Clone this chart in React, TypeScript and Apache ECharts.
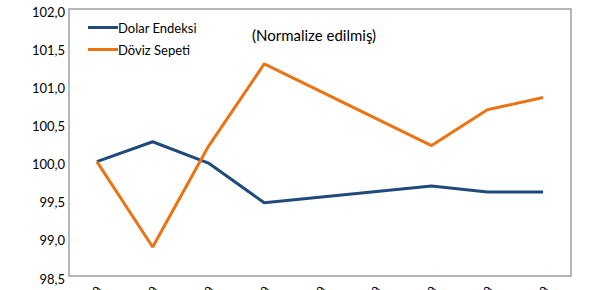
import React, { useEffect, useRef } from "react";
import * as echarts from "echarts";

const categories = ["Oca.19", "Şub.19", "Mar.19", "Nis.19", "May.19", "Haz.19", "Tem.19", "Ağu.19", "Eyl.19"];
const dolarEndeksi: (number | null)[] = [100.0, 100.26, 99.98, 99.46, null, null, 99.68, 99.6, 99.6];
const dovizSepeti: (number | null)[] = [100.0, 98.88, 100.2, 101.28, null, null, 100.21, 100.68, 100.84];
const yTicks = { min: 98.5, max: 102.0, interval: 0.5 };

const FONT = "Lato, 'Open Sans', sans-serif";

export default function App() {
  const ref = useRef<HTMLDivElement>(null);
  useEffect(() => {
    if (!ref.current) return;
    const chart = echarts.init(ref.current, undefined, { renderer: "svg" });
    chart.setOption({
      animation: false,
      textStyle: { fontFamily: FONT },
      title: {
        text: "(Normalize edilmiş)",
        left: 247,
        top: 22,
        textStyle: { fontSize: 15, fontWeight: "normal", color: "#000", fontFamily: FONT },
      },
      legend: {
        orient: "vertical",
        left: 83,
        top: 16,
        itemWidth: 30,
        itemHeight: 3,
        itemGap: 9,
        icon: "rect",
        textStyle: { fontSize: 13, color: "#000", fontFamily: FONT, padding: [0, 0, 0, -5] },
        data: ["Dolar Endeksi", "Döviz Sepeti"],
      },
      grid: {
        left: 69,
        right: 41,
        top: 9,
        bottom: 14,
        containLabel: false,
        outerBoundsMode: "none",
        show: true,
        borderColor: "#a0a0a0",
        borderWidth: 1.5,
        backgroundColor: "transparent",
      },
      xAxis: {
        type: "category",
        data: categories,
        boundaryGap: true,
        axisLine: { show: false },
        axisTick: { show: false },
        axisLabel: { rotate: 90, margin: 10, fontSize: 11, color: "#000", fontFamily: FONT },
        splitLine: { show: false },
      },
      yAxis: {
        type: "value",
        min: yTicks.min,
        max: yTicks.max,
        interval: yTicks.interval,
        axisLine: { show: false },
        axisTick: { show: false },
        splitLine: { show: false },
        axisLabel: {
          margin: 4,
          fontSize: 13,
          color: "#000",
          fontFamily: FONT,
          verticalAlign: "top",
          padding: [-4, 0, 0, 0],
          formatter: (v: number) => v.toFixed(1).replace(".", ","),
        },
      },
      series: [
        {
          name: "Dolar Endeksi",
          type: "line",
          data: dolarEndeksi,
          connectNulls: true,
          symbol: "none",
          lineStyle: { color: "#1f4a7c", width: 3 },
          itemStyle: { color: "#1f4a7c" },
        },
        {
          name: "Döviz Sepeti",
          type: "line",
          data: dovizSepeti,
          connectNulls: true,
          symbol: "none",
          lineStyle: { color: "#eb7314", width: 3 },
          itemStyle: { color: "#eb7314" },
        },
      ],
    });
    return () => chart.dispose();
  }, []);
  return (
    <div
      ref={ref}
      style={{ position: "fixed", left: 0, top: 0, width: 612, height: 290, background: "#fff" }}
    />
  );
}
